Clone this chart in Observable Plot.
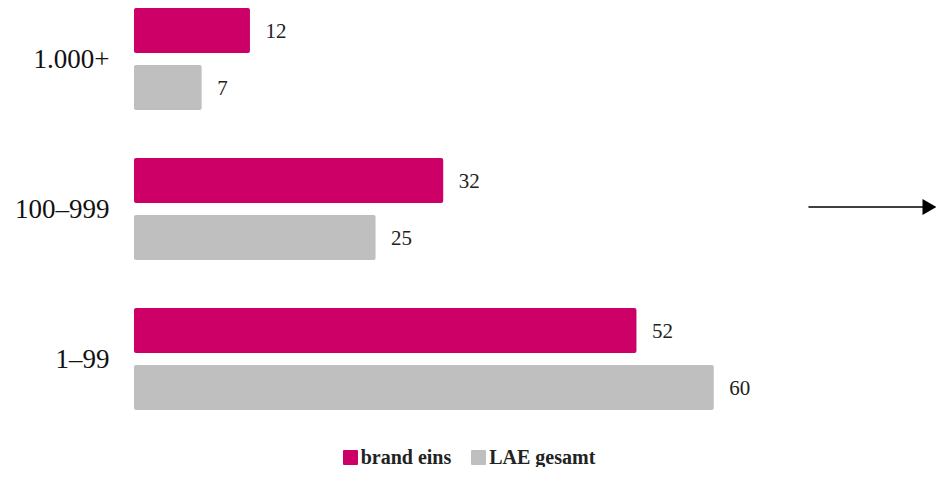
<!DOCTYPE html>
<html>
<head>
<meta charset="utf-8">
<script src="https://cdn.jsdelivr.net/npm/d3@7"></script>
<script src="https://cdn.jsdelivr.net/npm/@observablehq/plot@0.6"></script>
<style>
  html, body { margin: 0; padding: 0; background: #fff; }
  #chart { width: 936px; }
  .legend { display: flex; justify-content: center; gap: 20px; margin-top: 17px;
    font-family: "Liberation Serif", "DejaVu Serif", serif; font-weight: bold; font-size: 20px; color: #222; line-height: 20px; padding-left: 2px; }
  .legend span.item { display: inline-flex; align-items: center; }
  .legend span.sw { display: inline-block; width: 15px; height: 15px; margin-right: 3px; border-radius: 1px; }
</style>
</head>
<body>
<div id="chart"></div>
<script>
const categories = ["1.000+", "100–999", "1–99"];
const series = ["brand eins", "LAE gesamt"];
const brandEins = [12, 32, 52];
const laeGesamt = [7, 25, 60];
const colors = ["#cc0066", "#bfbfbf"];
const arrowCategory = "100–999";
const arrowFrom = 69.8;
const arrowTo = 83;

const FONT = "'Liberation Serif', 'DejaVu Serif', serif";

const data = [];
categories.forEach((c, i) => {
  data.push({category: c, series: series[0], value: brandEins[i]});
  data.push({category: c, series: series[1], value: laeGesamt[i]});
});
const arrowData = [{category: arrowCategory, series: series[0], x1: arrowFrom, x2: arrowTo}];

const triangleRight = {
  draw(ctx, size) {
    ctx.moveTo(-14, -8);
    ctx.lineTo(0, 0);
    ctx.lineTo(-14, 8);
    ctx.closePath();
  }
};

const plot = Plot.plot({
  width: 936,
  height: 430,
  marginLeft: 134,
  marginRight: 0,
  marginTop: 8,
  marginBottom: 20,
  style: {fontFamily: FONT, fontSize: "27px", color: "#111", background: "#fff"},
  x: {domain: [0, arrowTo], axis: null},
  y: {domain: series, paddingInner: 12 / 57, paddingOuter: 0, axis: null},
  fy: {domain: categories, paddingInner: 0.32, paddingOuter: 0, axis: "left", tickSize: 0, tickPadding: 25, label: null},
  color: {domain: series, range: colors},
  marks: [
    Plot.barX(data, {x: "value", y: "series", fy: "category", fill: "series", rx: 2}),
    Plot.text(data, {x: "value", y: "series", fy: "category", text: d => String(d.value), dx: 15, textAnchor: "start", fontSize: 21, fontFamily: FONT, fill: "#222"}),
    Plot.ruleY(arrowData, {x1: "x1", x2: d => d.x2 - 1, y: "series", fy: "category", dy: 26, stroke: "#000", strokeWidth: 1.5}),
    Plot.dot(arrowData, {x: "x2", y: "series", fy: "category", dy: 26, symbol: triangleRight, fill: "#000", stroke: "none", r: 7})
  ]
});
document.getElementById("chart").appendChild(plot);

const legend = document.createElement("div");
legend.className = "legend";
series.forEach((s, i) => {
  const item = document.createElement("span");
  item.className = "item";
  const sw = document.createElement("span");
  sw.className = "sw";
  sw.style.background = colors[i];
  item.appendChild(sw);
  item.appendChild(document.createTextNode(s));
  legend.appendChild(item);
});
document.getElementById("chart").appendChild(legend);
</script>
</body>
</html>
